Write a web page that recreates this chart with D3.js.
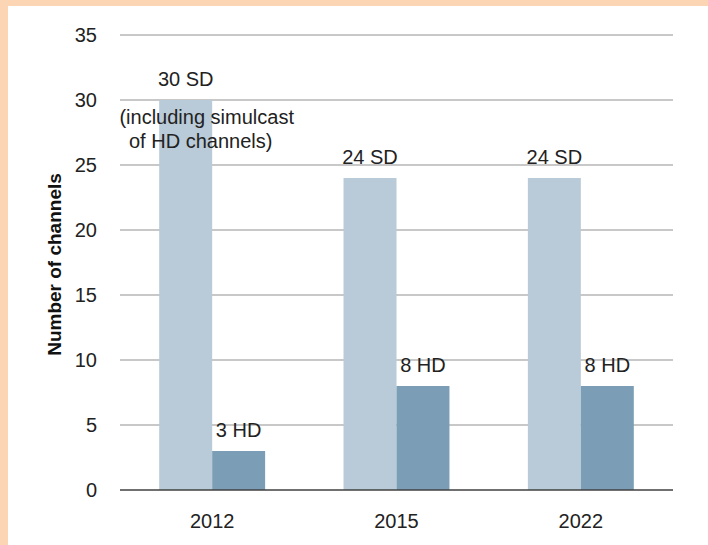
<!DOCTYPE html>
<html>
<head>
<meta charset="utf-8">
<script src="https://cdn.jsdelivr.net/npm/d3@7"></script>
<style>
  body { margin: 0; background: #fff; }
  svg { display: block; font-family: "Liberation Sans", Arial, sans-serif; }
</style>
</head>
<body>
<div id="chart"></div>
<script>
// data
const years = ["2012", "2015", "2022"];
const series = ["SD", "HD"];
const sdValues = [30, 24, 24];
const hdValues = [3, 8, 8];
const yTicks = [0, 5, 10, 15, 20, 25, 30, 35];
const noteLines = ["(including simulcast", "of HD channels)"];

const colors = { SD: "#b9cad8", HD: "#7b9eb6" };
const fontSize = 20;

const width = 708, height = 545;
const margin = { top: 35, right: 35, bottom: 55, left: 120 };

const svg = d3.select("#chart")
  .append("svg")
  .attr("width", width)
  .attr("height", height);

// peach frame on the left and top
svg.append("rect").attr("x", 0).attr("y", 0).attr("width", width).attr("height", 6).attr("fill", "#fcd5b4");
svg.append("rect").attr("x", 0).attr("y", 0).attr("width", 8).attr("height", height).attr("fill", "#fcd5b4");

const x0 = d3.scaleBand()
  .domain(years)
  .range([margin.left, width - margin.right])
  .padding(0);

const x1 = d3.scaleBand()
  .domain(series)
  .range([0, x0.bandwidth()])
  .paddingInner(0)
  .paddingOuter(0.74);

const y = d3.scaleLinear()
  .domain([0, 35])
  .range([height - margin.bottom, margin.top]);

// gridlines
svg.append("g")
  .selectAll("line")
  .data(yTicks.filter(d => d > 0))
  .enter()
  .append("line")
  .attr("x1", margin.left)
  .attr("x2", width - margin.right)
  .attr("y1", d => y(d))
  .attr("y2", d => y(d))
  .attr("stroke", "#c8c8c8")
  .attr("stroke-width", 2);

// y axis labels
const yAxis = svg.append("g")
  .attr("transform", `translate(${margin.left},0)`)
  .call(d3.axisLeft(y).tickValues(yTicks).tickSize(0).tickPadding(23));
yAxis.select(".domain").remove();
yAxis.selectAll("text")
  .attr("font-size", fontSize)
  .attr("font-family", "Liberation Sans, Arial, sans-serif")
  .attr("fill", "#222");

const rows = years.map((yr, i) => ({ year: yr, SD: sdValues[i], HD: hdValues[i] }));

// bars
const groups = svg.append("g")
  .selectAll("g")
  .data(rows)
  .enter()
  .append("g")
  .attr("transform", d => `translate(${x0(d.year)},0)`);

groups.selectAll("rect")
  .data(d => series.map(s => ({ key: s, value: d[s] })))
  .enter()
  .append("rect")
  .attr("x", d => x1(d.key))
  .attr("y", d => y(d.value))
  .attr("width", x1.bandwidth())
  .attr("height", d => y(0) - y(d.value))
  .attr("fill", d => colors[d.key]);

// baseline
svg.append("line")
  .attr("x1", margin.left)
  .attr("x2", width - margin.right)
  .attr("y1", y(0))
  .attr("y2", y(0))
  .attr("stroke", "#404040")
  .attr("stroke-width", 1.5);

// x axis labels
const xAxis = svg.append("g")
  .attr("transform", `translate(0,${y(0)})`)
  .call(d3.axisBottom(x0).tickSize(0).tickPadding(24));
xAxis.select(".domain").remove();
xAxis.selectAll("text")
  .attr("font-size", fontSize)
  .attr("font-family", "Liberation Sans, Arial, sans-serif")
  .attr("fill", "#222");

// value labels
groups.selectAll(".label")
  .data(d => series.map(s => ({ key: s, value: d[s] })))
  .enter()
  .append("text")
  .attr("class", "label")
  .attr("x", d => x1(d.key) + x1.bandwidth() / 2)
  .attr("y", d => y(d.value) - 14)
  .attr("text-anchor", "middle")
  .attr("font-size", fontSize)
  .attr("fill", "#222")
  .text(d => `${d.value} ${d.key}`);

// note under the first SD label
const noteX = x0(years[0]) + x1("SD") + x1.bandwidth() / 2;
svg.append("text")
  .attr("x", noteX + 21)
  .attr("y", y(sdValues[0]) + 24)
  .attr("text-anchor", "middle")
  .attr("font-size", fontSize)
  .attr("fill", "#222")
  .text(noteLines[0]);
svg.append("text")
  .attr("x", noteX + 15)
  .attr("y", y(sdValues[0]) + 48)
  .attr("text-anchor", "middle")
  .attr("font-size", fontSize)
  .attr("fill", "#222")
  .text(noteLines[1]);

// y axis title
svg.append("text")
  .attr("transform", `translate(61,${(y(0) + y(35)) / 2 + 2}) rotate(-90)`)
  .attr("text-anchor", "middle")
  .attr("font-size", 19)
  .attr("font-weight", "bold")
  .attr("fill", "#111")
  .text("Number of channels");
</script>
</body>
</html>
